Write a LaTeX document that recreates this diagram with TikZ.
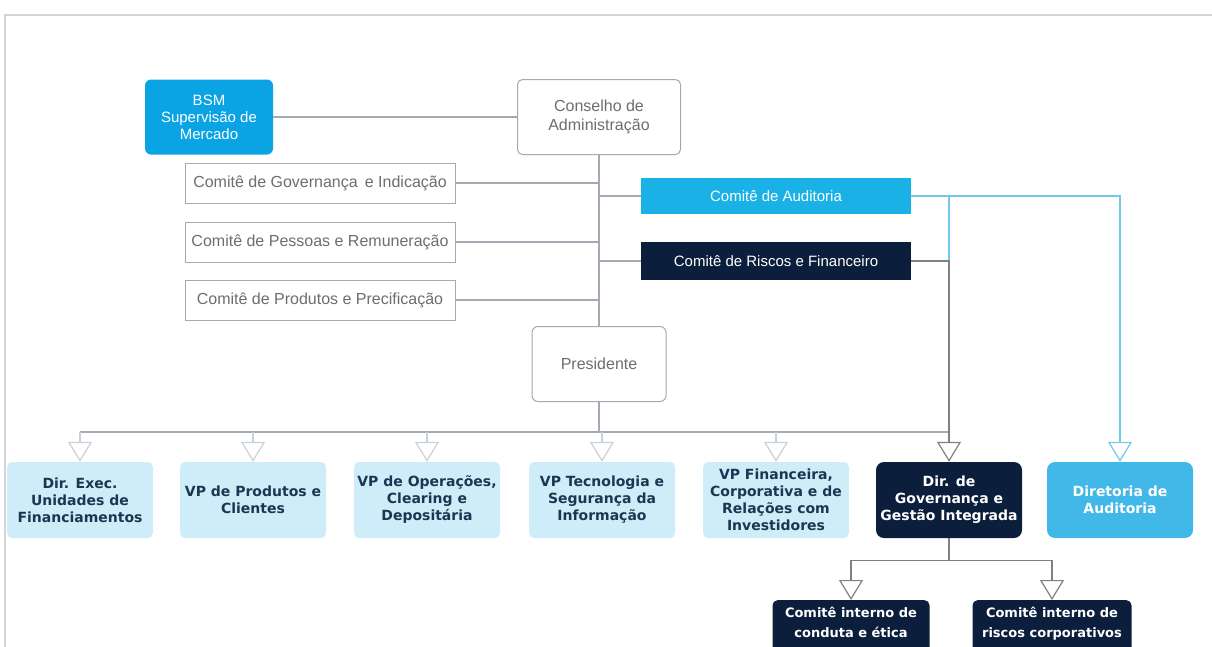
\documentclass[tikz,border=0pt]{standalone}
\usepackage{fontspec}
\setmainfont{Liberation Sans}
\newfontfamily\dvsans{DejaVu Sans}
\usetikzlibrary{arrows.meta}

\definecolor{bsmblue}{HTML}{0AA3E4}
\definecolor{audblue}{HTML}{1AB2E6}
\definecolor{navy}{HTML}{0B1E3C}
\definecolor{paleblue}{HTML}{CFECF9}
\definecolor{dirblue}{HTML}{42B8E8}
\definecolor{txtgray}{HTML}{6E6E6E}
\definecolor{txtnavy}{HTML}{1E3552}
\definecolor{linegray}{HTML}{A3AAB3}
\definecolor{faintgray}{HTML}{C9D0D8}
\definecolor{lineblue}{HTML}{74C8EC}
\definecolor{framegray}{HTML}{D4D4D4}

\begin{document}
\begin{tikzpicture}[x=1pt,y=-1pt,
  wbox/.style={draw=linegray,line width=1pt,fill=white,text=txtgray,align=center,
    font=\fontsize{16}{19}\selectfont,inner sep=0pt},
  cbox/.style={fill=#1,text=white,align=center,inner sep=0pt,minimum width=270,
    font=\fontsize{15}{18}\selectfont},
  unit/.style={fill=#1,rounded corners=5pt,align=center,inner sep=0pt,
    minimum width=146,minimum height=76,text=txtnavy,
    font=\dvsans\bfseries\fontsize{14}{17}\selectfont},
  conn/.style={draw=linegray,line width=1.3pt},
  open/.style={-{Triangle[open,length=20pt,width=24pt,line width=1.2pt]}}]
  \useasboundingbox (0,0) rectangle (1212,646);
  \draw[framegray,line width=1.2pt] (5,670) -- (5,15) -- (1230,15);

  % top level
  \node[wbox,rounded corners=5pt,minimum width=163,minimum height=75] (cons) at (599,117)
    {Conselho de\\Administração};
  \node[fill=bsmblue,text=white,align=center,inner sep=0pt,rounded corners=6pt,
    minimum width=128,minimum height=75,font=\fontsize{15}{17}\selectfont] (bsm) at (209,117)
    {BSM\\Supervisão de\\Mercado};
  \node[wbox,minimum width=270,minimum height=40] (cgi) at (320,183) {Comitê de Governança\, e Indicação};
  \node[wbox,minimum width=270,minimum height=40] (cpr) at (320,242) {Comitê de Pessoas e Remuneração};
  \node[wbox,minimum width=270,minimum height=40] (cpp) at (320,300) {Comitê de Produtos e Precificação};
  \node[cbox=audblue,minimum height=36] (aud) at (776,196) {Comitê de Auditoria};
  \node[cbox=navy,minimum height=38] (cri) at (776,261) {Comitê de Riscos e Financeiro};
  \node[wbox,rounded corners=6pt,minimum width=134,minimum height=75] (pres) at (599,364)
    {Presidente};

  % directorates
  \node[unit=paleblue] (d1) at (80,500) {Dir. Exec.\\Unidades de\\Financiamentos};
  \node[unit=paleblue] (d2) at (253,500) {VP de Produtos e\\Clientes};
  \node[unit=paleblue] (d3) at (427,500) {VP de Operações,\\Clearing e\\Depositária};
  \node[unit=paleblue] (d4) at (602,500) {VP Tecnologia e\\Segurança da\\Informação};
  \node[unit=paleblue] (d5) at (776,500) {VP Financeira,\\Corporativa e de\\Relações com\\Investidores};
  \node[unit=navy,text=white,rounded corners=8pt] (dgi) at (949,500) {Dir. de\\Governança e\\Gestão Integrada};
  \node[unit=dirblue,text=white,rounded corners=8pt] (dau) at (1120,500) {Diretoria de\\Auditoria};
  \node[unit=navy,text=white,minimum width=157,minimum height=70,anchor=north,
    font=\dvsans\bfseries\fontsize{13}{20}\selectfont] (cie) at (851,600)
    {Comitê interno de\\conduta e ética\\[6pt]};
  \node[unit=navy,text=white,minimum width=159,minimum height=70,anchor=north,
    font=\dvsans\bfseries\fontsize{13}{20}\selectfont] (cir) at (1052,600)
    {Comitê interno de\\riscos corporativos\\[6pt]};

  \coordinate (bus) at (0,432);

  % connectors
  \draw[conn] (bsm.east) -- (cons.west);
  \draw[conn] (cons.south) -- (pres.north);
  \foreach \c in {cgi,cpr,cpp} \draw[conn] (\c.east) -- (\c.east -| cons.south);
  \foreach \c in {aud,cri} \draw[conn] (\c.west) -- (\c.west -| cons.south);
  \draw[conn] (pres.south) -- (pres.south |- bus);
  \draw[conn] (d1.north |- bus) -- (dgi.north |- bus);
  \foreach \d in {d1,d2,d3,d4,d5}
    \draw[faintgray,line width=1.2pt,open] (\d.north |- bus) -- (\d.north);
  \draw[lineblue,line width=1.3pt,open] (aud.east) -| (dau.north);
  \draw[lineblue,line width=1.3pt] (aud.east) -| (dgi.north |- cri.east);
  \draw[conn,draw=gray,open] (cri.east) -| (dgi.north);
  \draw[conn,draw=gray,open] (dgi.south) -- ++(0,22) -| (cie.north);
  \draw[conn,draw=gray,open] (dgi.south) -- ++(0,22) -| (cir.north);
\end{tikzpicture}
\end{document}
